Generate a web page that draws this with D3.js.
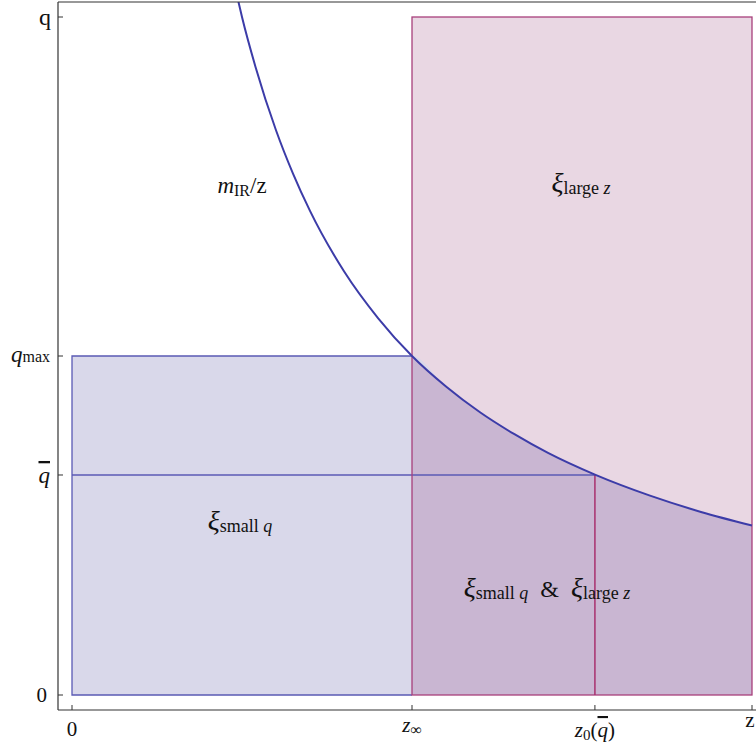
<!DOCTYPE html>
<html><head><meta charset="utf-8">
<script src="https://cdn.jsdelivr.net/npm/d3@7"></script>
<style>body{margin:0;background:#fff}svg{display:block;font-family:"Liberation Serif","DejaVu Serif",serif}</style>
</head><body><svg id="c" width="756" height="744"></svg>
<script>
// Key positions (data units, z and q each normalised to [0,1])
const zInf = 0.5, z0 = 0.769, qMax = 0.5, qBar = 0.3245;
// Curve m_IR/z
const curveZ = [0.243, 0.25, 0.27, 0.3, 0.325, 0.35, 0.4, 0.45, 0.5, 0.55, 0.6, 0.65, 0.7, 0.769, 0.85, 0.925, 1.0];
const curveQ = [1.03, 1.0, 0.926, 0.833, 0.769, 0.714, 0.625, 0.556, 0.5, 0.455, 0.417, 0.385, 0.357, 0.325, 0.294, 0.270, 0.25];
const xTickValues = [0, zInf, z0, 1];
const yTickValues = [0, qBar, qMax, 1];

const svg = d3.select("#c");
const x = d3.scaleLinear([0, 1], [72, 752]);
const y = d3.scaleLinear([0, 1], [695, 17]);
const pts = curveZ.map((z, i) => [z, curveQ[i]]);
const tail = pts.filter(p => p[0] >= zInf);

const line = d3.line().x(d => x(d[0])).y(d => y(d[1])).curve(d3.curveMonotoneX);

svg.append("defs").append("clipPath").attr("id", "clip")
  .append("rect").attr("x", 58).attr("y", 2).attr("width", 698).attr("height", 708);
const g = svg.append("g").attr("clip-path", "url(#clip)");

// Pink rect (large z)
g.append("rect").attr("x", x(zInf)).attr("y", y(1)).attr("width", x(1) - x(zInf)).attr("height", y(0) - y(1))
  .attr("fill", "#e9d7e3");
// Blue region (small q): below qMax and below curve
g.append("path").attr("d", "M" + x(0) + "," + y(0) + "L" + line([[0, qMax]].concat(tail)).slice(1) + "L" + x(1) + "," + y(0) + "Z")
  .attr("fill", "#d9d8ea");
// Overlap region
g.append("path").attr("d", "M" + x(zInf) + "," + y(0) + "L" + line(tail).slice(1) + "L" + x(1) + "," + y(0) + "Z")
  .attr("fill", "#c9b6d2");

// Blue outlines
g.append("path").attr("d", "M" + x(zInf) + "," + y(0) + "L" + x(0) + "," + y(0) + "L" + x(0) + "," + y(qMax) + "L" + x(zInf) + "," + y(qMax))
  .attr("fill", "none").attr("stroke", "#5a5ab4").attr("stroke-width", 1.3);
g.append("line").attr("x1", x(0)).attr("x2", x(z0)).attr("y1", y(qBar)).attr("y2", y(qBar))
  .attr("stroke", "#5a5ab4").attr("stroke-width", 1.3);
// Pink outlines
g.append("rect").attr("x", x(zInf)).attr("y", y(1)).attr("width", x(1) - x(zInf)).attr("height", y(0) - y(1))
  .attr("fill", "none").attr("stroke", "#a8407c").attr("stroke-width", 1.3);
g.append("line").attr("x1", x(z0)).attr("x2", x(z0)).attr("y1", y(qBar)).attr("y2", y(0))
  .attr("stroke", "#a8306e").attr("stroke-width", 1.5);
// Curve
g.append("path").attr("d", line(pts)).attr("fill", "none").attr("stroke", "#3c3ca8").attr("stroke-width", 2);

// Frame / axes
const ax = "#333";
svg.append("line").attr("x1", 58).attr("x2", 58).attr("y1", 2).attr("y2", 710).attr("stroke", ax).attr("stroke-width", 1.2);
svg.append("line").attr("x1", 58).attr("x2", 756).attr("y1", 710).attr("y2", 710).attr("stroke", ax).attr("stroke-width", 1.2);
svg.append("line").attr("x1", 58).attr("x2", 756).attr("y1", 2).attr("y2", 2).attr("stroke", ax).attr("stroke-width", 1.2);
yTickValues.forEach(v => svg.append("line").attr("x1", 58).attr("x2", 63).attr("y1", y(v)).attr("y2", y(v)).attr("stroke", ax));
xTickValues.forEach(v => svg.append("line").attr("x1", x(v)).attr("x2", x(v)).attr("y1", 710).attr("y2", 705).attr("stroke", ax));

function txt(xp, yp, anchor, parts, size) {
  const t = svg.append("text").attr("x", xp).attr("y", yp).attr("text-anchor", anchor).attr("font-size", size).attr("fill", "#111");
  parts.forEach(p => {
    const s = t.append("tspan").text(p.t);
    if (p.i) s.attr("font-style", "italic");
    if (p.s) s.attr("font-size", p.s);
    if (p.dy) s.attr("dy", p.dy);
    if (p.o) s.attr("text-decoration", "overline");
  });
  return t;
}
// y tick labels
txt(51, y(1) + 8, "end", [{t: "q"}], 24);
txt(50, y(qMax) + 6, "end", [{t: "q", i: 1}, {t: "max", s: 16}], 23);
txt(50, y(qBar) + 8, "end", [{t: "q", i: 1, o: 1}], 23);
txt(47, y(0) + 7, "end", [{t: "0"}], 21);
// x tick labels
txt(x(0), 736, "middle", [{t: "0"}], 21);
txt(x(zInf), 732, "middle", [{t: "z", i: 1}, {t: "∞", s: 16, dy: 3}], 21);
svg.append("text").attr("x", x(z0)).attr("y", 737).attr("text-anchor", "middle").attr("font-size", 21).attr("fill", "#111")
  .call(t => { t.append("tspan").attr("font-style", "italic").text("z");
    t.append("tspan").attr("font-size", 15).attr("dy", 3).text("0");
    t.append("tspan").attr("dy", -3).text("(");
    t.append("tspan").attr("font-style", "italic").attr("text-decoration", "overline").text("q");
    t.append("tspan").text(")"); });
txt(750, 727, "middle", [{t: "z"}], 21);

// Region labels
txt(242, 193, "middle", [{t: "m", i: 1}, {t: "IR", s: 16, dy: 3}, {t: "/z", dy: -3}], 23);
txt(581, 192, "middle", [{t: "ξ", i: 1}, {t: "large ", s: 18, dy: 2}, {t: "z", s: 18, i: 1}], 28);
txt(240, 530, "middle", [{t: "ξ", i: 1}, {t: "small ", s: 18, dy: 2}, {t: "q", s: 18, i: 1}], 28);
txt(547, 597, "middle", [{t: "ξ", i: 1}, {t: "small ", s: 18, dy: 2}, {t: "q", s: 18, i: 1},
  {t: "  &  ", s: 24, dy: -2}, {t: "ξ", i: 1}, {t: "large ", s: 18, dy: 2}, {t: "z", s: 18, i: 1}], 28).attr("xml:space", "preserve");
</script></body></html>
